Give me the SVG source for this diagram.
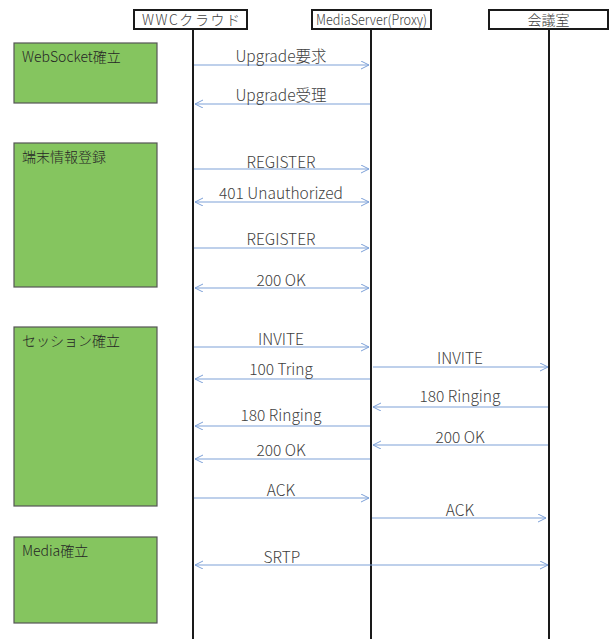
<svg xmlns="http://www.w3.org/2000/svg" width="614" height="639" viewBox="0 0 614 639">
<style>
.hdr{fill:#fff;stroke:#1a1a1a;stroke-width:2}
.life{stroke:#1a1a1a;stroke-width:2}
.grp{fill:#85c55f;stroke:#555;stroke-width:1.2}
.gt{font-family:"Noto Sans CJK JP","Noto Sans",sans-serif;font-size:14px;font-weight:300;fill:#262626}
.ht{font-family:"Noto Sans CJK JP","Noto Sans",sans-serif;font-size:14px;font-weight:300;fill:#404040;text-anchor:middle}
.lb{font-family:"Noto Sans CJK JP","Noto Sans",sans-serif;font-size:15.5px;font-weight:300;fill:#404040;text-anchor:middle}
.msg{stroke:#7ea1d8;stroke-width:1.2;fill:none}
</style>
<defs>
<marker id="ah" markerWidth="10" markerHeight="10" refX="8" refY="4" orient="auto-start-reverse" markerUnits="userSpaceOnUse">
<path d="M0,0 L8,4 L0,8" fill="none" stroke="#7ea1d8" stroke-width="1"/>
</marker>
</defs>
<rect width="614" height="639" fill="#fff"/>
<g id="lifelines">
<line class="life" x1="193" y1="29" x2="193" y2="639"/>
<line class="life" x1="371" y1="29" x2="371" y2="639"/>
<line class="life" x1="549" y1="29" x2="549" y2="639"/>
</g>
<g id="node-wwc"><rect class="hdr" x="134" y="10" width="113" height="19"/><text class="ht" x="191" y="25" textLength="98" lengthAdjust="spacing">WWCクラウド</text></g>
<g id="node-ms"><rect class="hdr" x="312" y="10" width="119" height="19"/><text class="ht" x="371.5" y="25" textLength="111" lengthAdjust="spacingAndGlyphs">MediaServer(Proxy)</text></g>
<g id="node-room"><rect class="hdr" x="489" y="10" width="119" height="19"/><text class="ht" x="548.5" y="25">会議室</text></g>
<g id="grp-ws"><rect class="grp" x="14" y="43" width="143" height="60"/><text class="gt" x="22" y="62">WebSocket確立</text></g>
<g id="grp-reg"><rect class="grp" x="14" y="143" width="143" height="144"/><text class="gt" x="22" y="162">端末情報登録</text></g>
<g id="grp-ses"><rect class="grp" x="14" y="327" width="143" height="179"/><text class="gt" x="22" y="346">セッション確立</text></g>
<g id="grp-media"><rect class="grp" x="14" y="537" width="143" height="86"/><text class="gt" x="22" y="556">Media確立</text></g>
<g id="connectors">
<line class="msg" x1="194" y1="65" x2="369" y2="65" marker-end="url(#ah)"/>
<line class="msg" x1="370" y1="104" x2="195" y2="104" marker-end="url(#ah)"/>
<line class="msg" x1="194" y1="169" x2="369" y2="169" marker-end="url(#ah)"/>
<line class="msg" x1="195" y1="202" x2="369" y2="202" marker-start="url(#ah)" marker-end="url(#ah)"/>
<line class="msg" x1="194" y1="248" x2="369" y2="248" marker-end="url(#ah)"/>
<line class="msg" x1="195" y1="288" x2="369" y2="288" marker-start="url(#ah)" marker-end="url(#ah)"/>
<line class="msg" x1="194" y1="347" x2="369" y2="347" marker-end="url(#ah)"/>
<line class="msg" x1="373" y1="367" x2="548" y2="367" marker-end="url(#ah)"/>
<line class="msg" x1="370" y1="379" x2="195" y2="379" marker-end="url(#ah)"/>
<line class="msg" x1="548" y1="407" x2="373" y2="407" marker-end="url(#ah)"/>
<line class="msg" x1="370" y1="426" x2="195" y2="426" marker-end="url(#ah)"/>
<line class="msg" x1="548" y1="445" x2="373" y2="445" marker-end="url(#ah)"/>
<line class="msg" x1="370" y1="459" x2="195" y2="459" marker-end="url(#ah)"/>
<line class="msg" x1="194" y1="498" x2="369" y2="498" marker-end="url(#ah)"/>
<line class="msg" x1="372" y1="518" x2="546" y2="518" marker-end="url(#ah)"/>
<line class="msg" x1="195" y1="565" x2="548" y2="565" marker-start="url(#ah)" marker-end="url(#ah)"/>
</g>
<g id="labels">
<text class="lb" x="281" y="62">Upgrade要求</text>
<text class="lb" x="281" y="101">Upgrade受理</text>
<text class="lb" x="281" y="168">REGISTER</text>
<text class="lb" x="281" y="199">401 Unauthorized</text>
<text class="lb" x="281" y="245">REGISTER</text>
<text class="lb" x="281" y="286">200 OK</text>
<text class="lb" x="281" y="345">INVITE</text>
<text class="lb" x="460" y="364">INVITE</text>
<text class="lb" x="281" y="375">100 Tring</text>
<text class="lb" x="460" y="402">180 Ringing</text>
<text class="lb" x="281" y="421">180 Ringing</text>
<text class="lb" x="460" y="443">200 OK</text>
<text class="lb" x="281" y="456">200 OK</text>
<text class="lb" x="281" y="496">ACK</text>
<text class="lb" x="460" y="516">ACK</text>
<text class="lb" x="282" y="563">SRTP</text>
</g>
</svg>
